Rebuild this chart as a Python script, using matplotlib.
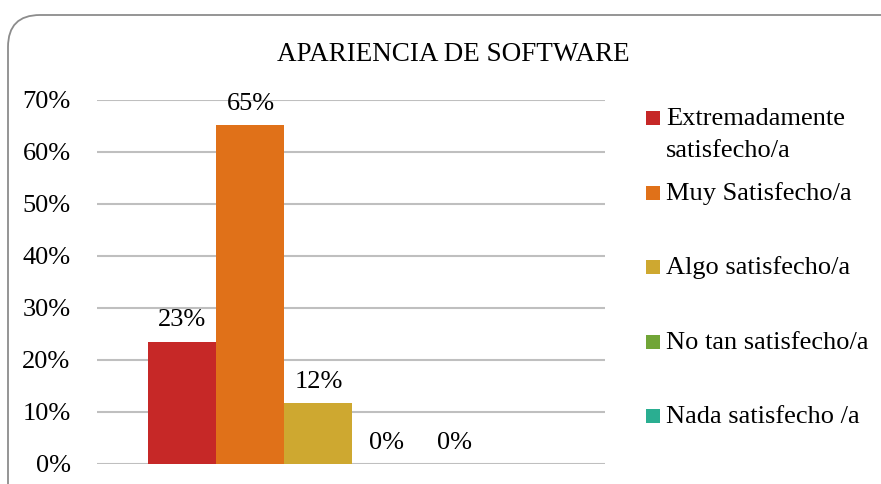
import matplotlib
matplotlib.use("Agg")
import matplotlib.pyplot as plt
from matplotlib.patches import FancyBboxPatch, Rectangle
import numpy as np

title = "APARIENCIA DE SOFTWARE"
series = ["Extremadamente\nsatisfecho/a", "Muy Satisfecho/a", "Algo satisfecho/a",
          "No tan satisfecho/a", "Nada satisfecho /a"]
values = [0.235, 0.652, 0.117, 0.0, 0.0]
labels = ["23%", "65%", "12%", "0%", "0%"]
colors = ["#C62827", "#E07119", "#CEA830", "#71A537", "#2AAE91"]
yticks = [0, 0.1, 0.2, 0.3, 0.4, 0.5, 0.6, 0.7]
ytick_labels = ["0%", "10%", "20%", "30%", "40%", "50%", "60%", "70%"]

plt.rcParams['font.family'] = ['Liberation Serif', 'DejaVu Serif']
W, H = 881, 484
fig = plt.figure(figsize=(W/100, H/100), dpi=100)

# rounded frame
frame = FancyBboxPatch((0.08, -0.4), 9.15, 4.69 + 0.4, boxstyle="round,pad=0,rounding_size=0.32",
                       transform=fig.dpi_scale_trans, facecolor="none", edgecolor="#8C8C8C",
                       linewidth=1.3, zorder=5)
fig.patches.append(frame)

ax = fig.add_axes([97/W, 1-464/H, (605-97)/W, (464-100)/H])
ax.set_facecolor("none")
bw = 68/508
for i, (v, c, lab) in enumerate(zip(values, colors, labels)):
    x = (i - 2) * bw
    ax.bar(x, v, width=bw, color=c, zorder=3)
    ax.annotate(lab, (x, v), xytext=(0, 7.5), textcoords="offset points",
                ha="center", va="bottom", fontsize=19, color="#000000")
ax.set_xlim(-0.436, 0.564)
ax.set_ylim(0, 0.70)
ax.set_yticks(yticks)
ax.set_yticklabels(ytick_labels, fontsize=19)
ax.tick_params(axis="y", length=0, pad=19)
ax.set_xticks([])
for s in ax.spines.values():
    s.set_visible(False)
ax.grid(axis="y", color="#BFBFBF", linewidth=1.5, zorder=0)
ax.set_axisbelow(True)

fig.text(453/W, 1-61/H, title, ha="center", va="baseline", fontsize=19.5)

# legend
leg_c = [117.5, 193, 266.5, 341.5, 415.5]
for name, c, yy in zip(series, colors, leg_c):
    fig.patches.append(Rectangle((646/W, 1-(yy+7)/H), 14/W, 14/H, transform=fig.transFigure,
                                 facecolor=c, edgecolor="none"))
    for k, line in enumerate(name.split("\n")):
        fig.text(666/W, 1-(yy+7.5+32*k)/H, line, ha="left", va="baseline", fontsize=19)

fig.savefig("out.png", dpi=100)
